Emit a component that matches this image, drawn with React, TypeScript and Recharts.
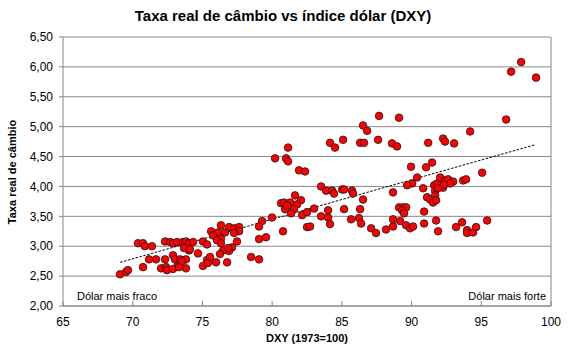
import { ScatterChart, Scatter, XAxis, YAxis, CartesianGrid, ReferenceLine } from "recharts";

const dxy = [
  69.09, 69.52, 69.66, 70.38, 70.74, 70.88, 71.38, 70.74, 71.17, 71.67,
  72.03, 72.39, 72.46, 72.89, 73.25, 73.32, 73.82, 72.32, 72.89, 73.03,
  73.39, 73.82, 74.04, 74.68, 72.32, 72.68, 72.89, 73.18, 73.61, 73.82,
  74.04, 74.33, 73.68, 74.11, 75.04, 75.33, 75.04, 75.33, 75.4, 73.54,
  75.55, 75.62, 76.12, 75.76, 76.33, 76.05, 76.62, 76.33, 76.91, 77.27,
  77.63, 77.63, 77.27, 77.48, 77.12, 76.91, 76.48, 76.26, 75.98, 76.77,
  76.33, 76.84,
  78.49, 79.06, 79.06, 79.56, 79.28, 79.06, 79.99, 80.78, 80.21, 81.0,
  81.14, 81.14, 81.93, 82.36, 80.64, 80.85, 81.29, 81.64, 82.07, 81.79,
  81.57, 81.36, 80.93, 81.07, 82.15, 82.5, 83.01, 82.5, 82.72, 83.51,
  84.01, 84.01, 84.15, 83.51, 83.87, 84.3, 84.44, 84.15, 84.51,
  85.09, 86.31, 86.59, 87.6, 88.6, 88.96, 91.19, 87.67, 89.1, 86.52, 86.81,
  85.02, 85.16, 85.73, 85.8, 86.52, 85.16, 86.31, 85.66, 86.23, 86.38,
  87.1, 87.45, 88.17, 88.67, 88.67, 89.18, 89.1, 89.39, 89.61, 89.32,
  89.46, 89.61, 89.89, 90.11, 90.9, 90.9, 91.76, 91.9, 89.96, 91.47,
  91.04, 90.4, 90.04, 89.68, 88.67, 90.83, 91.11, 91.33, 91.54, 91.62,
  91.69, 91.69, 91.76, 91.83, 92.05, 92.26, 92.4, 92.62, 92.98, 92.76,
  92.33, 91.9, 93.7, 93.91, 95.06, 92.26, 92.4, 93.05, 94.2, 96.78,
  97.14, 97.86, 98.93, 93.19, 93.62, 93.98, 93.98, 94.41, 94.63, 95.42,
];

const cambio = [
  2.53, 2.57, 2.6, 3.05, 3.05, 3.0, 3.0, 2.65, 2.78, 2.78,
  2.63, 2.65, 2.6, 2.62, 2.7, 2.65, 2.63, 2.78, 2.85, 2.78,
  2.78, 2.78, 2.93, 2.88, 3.08, 3.07, 3.05, 3.07, 3.07, 3.08,
  3.05, 3.07, 2.97, 2.95, 3.08, 3.03, 2.67, 2.77, 2.72, 2.75,
  2.82, 3.25, 3.23, 3.18, 3.13, 3.1, 3.23, 3.35, 3.32, 3.3,
  3.32, 3.25, 3.22, 3.08, 2.98, 2.92, 2.93, 2.87, 2.73, 2.73,
  3.05, 2.97,
  2.82, 2.78, 3.12, 3.15, 3.42, 3.33, 3.48, 3.25, 4.47, 4.47,
  4.42, 4.65, 4.27, 4.25, 3.72, 3.73, 3.73, 3.85, 3.77, 3.7,
  3.62, 3.55, 3.62, 3.68, 3.52, 3.57, 3.63, 3.32, 3.33, 3.5,
  3.6, 3.48, 3.37, 4.0, 3.93, 3.93, 3.88, 4.73, 4.65,
  4.78, 4.73, 4.73, 4.78, 4.72, 4.67, 4.73, 5.18, 5.15, 5.02, 4.93,
  3.95, 3.95, 3.93, 3.88, 3.78, 3.62, 3.62, 3.45, 3.47, 3.38,
  3.3, 3.22, 3.28, 3.45, 3.33, 3.42, 3.65, 3.65, 3.65, 3.6,
  3.55, 3.35, 3.3, 3.33, 3.38, 3.58, 3.43, 3.25, 4.33, 4.4,
  4.32, 4.15, 4.05, 4.02, 3.9, 3.97, 3.82, 3.78, 3.73, 4.02,
  3.93, 3.85, 3.77, 4.05, 4.15, 3.98, 4.1, 4.12, 4.08, 4.05,
  4.03, 3.97, 4.1, 4.12, 4.23, 4.8, 4.75, 4.72, 4.92, 5.12,
  5.92, 6.08, 5.82, 3.32, 3.4, 3.27, 3.22, 3.23, 3.32, 3.43,
];

// linear trend at its two ends
const trendDxy = [69.1, 98.9];
const trendCambio = [2.73, 4.7];

const xTicks = [65, 70, 75, 80, 85, 90, 95, 100];
const yTicks = [2, 2.5, 3, 3.5, 4, 4.5, 5, 5.5, 6, 6.5];

const points = dxy.map((x, i) => ({ x, y: cambio[i] }));
const trend = trendDxy.map((x, i) => ({ x, y: trendCambio[i] }));

const FONT = "'Liberation Sans', Arial, sans-serif";
const AXIS = "#868686";

const Dot = (props: any) => (
  <circle cx={props.cx} cy={props.cy} r={3.8} fill="#ff0000" stroke="#1a1a1a" strokeWidth={0.8} />
);

export default function App() {
  document.body.style.margin = "0";
  return (
    <div style={{ position: "relative", width: 570, height: 355, background: "#fff", fontFamily: FONT }}>
      <div
        style={{
          position: "absolute", left: 0, width: 566, top: 7, textAlign: "center",
          fontSize: 15, fontWeight: "bold", color: "#000",
        }}
      >
        Taxa real de câmbio vs índice dólar (DXY)
      </div>
      <ScatterChart width={570} height={355} margin={{ top: 37, right: 19, bottom: 19, left: 0 }}>
        <CartesianGrid vertical={false} stroke="#888" horizontalValues={yTicks} />
        <XAxis
          type="number"
          dataKey="x"
          domain={[65, 100]}
          ticks={xTicks}
          height={30}
          stroke={AXIS}
          tickSize={-5}
          tickMargin={16}
          tick={{ fill: "#000", fontSize: 12, fontFamily: FONT }}
        />
        <YAxis
          type="number"
          dataKey="y"
          domain={[2, 6.5]}
          ticks={yTicks}
          width={63}
          stroke={AXIS}
          tickSize={4}
          tickMargin={6}
          tickFormatter={(v: number) => v.toFixed(2).replace(".", ",")}
          tick={{ fill: "#000", fontSize: 12, fontFamily: FONT }}
        />
        <ReferenceLine x={100} stroke={AXIS} />
        <Scatter
          data={trend}
          line={{ stroke: "#000", strokeWidth: 1, strokeDasharray: "2.5 1.5" }}
          shape={() => <g />}
          isAnimationActive={false}
        />
        <Scatter data={points} shape={Dot} isAnimationActive={false} />
      </ScatterChart>
      <div
        style={{
          position: "absolute", left: 12, top: 172, transform: "translate(-50%, -50%) rotate(-90deg)",
          transformOrigin: "center", whiteSpace: "nowrap", fontSize: 11, fontWeight: "bold", color: "#000",
        }}
      >
        Taxa real de câmbio
      </div>
      <div
        style={{
          position: "absolute", left: 207, width: 200, top: 332, textAlign: "center",
          fontSize: 11, fontWeight: "bold", color: "#000",
        }}
      >
        DXY (1973=100)
      </div>
      <div style={{ position: "absolute", left: 77, top: 290, fontSize: 11, color: "#000" }}>
        Dólar mais fraco
      </div>
      <div style={{ position: "absolute", right: 24, top: 290, fontSize: 11, color: "#000" }}>
        Dólar mais forte
      </div>
    </div>
  );
}
